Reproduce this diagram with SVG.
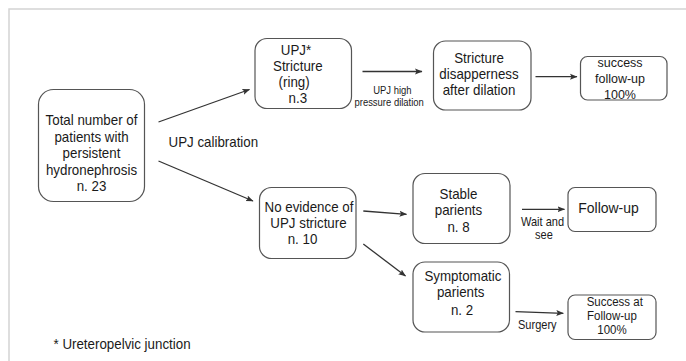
<svg xmlns="http://www.w3.org/2000/svg" width="686" height="361" viewBox="0 0 686 361">
<defs>
<marker id="ah" markerWidth="8" markerHeight="8" refX="7" refY="3.5" orient="auto" markerUnits="userSpaceOnUse">
<path d="M0,0.5 L7.5,3.5 L0,6.5 L1.5,3.5 z" fill="#333"/>
</marker>
</defs>
<style>
.box{fill:#fff;stroke:#555;stroke-width:1.2}
.t{font-family:"Liberation Sans",Arial,sans-serif;font-size:14.5px;fill:#1a1a1a;text-anchor:middle}
.s{font-size:10.3px}
.m{font-size:12px}
.n{font-size:13.6px}
.c{font-size:12.5px}
.f{font-size:15.2px}
.l{text-anchor:start}
.conn line{stroke:#333;stroke-width:1.3;marker-end:url(#ah)}
</style>
<rect x="0" y="0" width="686" height="361" fill="#fff"/>
<rect x="9" y="9" width="690" height="370" fill="none" stroke="#d4d4d4" stroke-width="1.5"/>

<g id="total">
<rect class="box" x="38.5" y="89.5" width="106" height="112" rx="15"/>
<g transform="translate(91.5,0) scale(0.92,1)">
<text class="t" x="0" y="125.5">Total number of</text>
<text class="t" x="0" y="142">patients with</text>
<text class="t" x="0" y="158.5">persistent</text>
<text class="t" x="0" y="175">hydronephrosis</text>
<text class="t" x="0" y="191">n. 23</text>
</g>
</g>

<g id="upj">
<rect class="box" x="255" y="38.5" width="96.5" height="70" rx="12"/>
<g transform="translate(296,0) scale(0.92,1)">
<text class="t" x="0" y="55">UPJ*</text>
<text class="t" x="2" y="71">Stricture</text>
<text class="t" x="-2" y="87">(ring)</text>
<text class="t" x="2" y="103">n.3</text>
</g>
</g>

<g id="disappear">
<rect class="box" x="433.5" y="41" width="97.5" height="69" rx="12"/>
<g transform="translate(479,0) scale(0.92,1)">
<text class="t" x="0" y="63.5">Stricture</text>
<text class="t" x="0" y="79.5">disapperness</text>
<text class="t" x="0" y="95.5">after dilation</text>
</g>
</g>

<g id="success1">
<rect class="box" x="580.5" y="56.5" width="86.5" height="43.5" rx="7"/>
<g transform="translate(620,0) scale(0.92,1)">
<text class="t n" x="0" y="67">success</text>
<text class="t n" x="0" y="83">follow-up</text>
<text class="t n" x="0" y="99">100%</text>
</g>
</g>

<g id="noevidence">
<rect class="box" x="259.5" y="187.5" width="96.5" height="71" rx="12"/>
<g transform="translate(308.5,0) scale(0.92,1)">
<text class="t" x="0.5" y="212.5">No evidence of</text>
<text class="t" x="0" y="228.5">UPJ stricture</text>
<text class="t" x="-6.5" y="244.5">n. 10</text>
</g>
</g>

<g id="stable">
<rect class="box" x="413" y="173.5" width="97" height="70" rx="12"/>
<g transform="translate(458.5,0) scale(0.92,1)">
<text class="t" x="0" y="199">Stable</text>
<text class="t" x="0" y="215.5">parients</text>
<text class="t" x="0" y="232.5">n. 8</text>
</g>
</g>

<g id="symptomatic">
<rect class="box" x="413" y="262" width="96.5" height="70" rx="12"/>
<g transform="translate(462,0) scale(0.92,1)">
<text class="t" x="1" y="281.5">Symptomatic</text>
<text class="t" x="-1.5" y="297.5">parients</text>
<text class="t" x="0" y="315">n. 2</text>
</g>
</g>

<g id="followup">
<rect class="box" x="568" y="187.5" width="88" height="44" rx="7"/>
<g transform="translate(608.5,0) scale(0.92,1)">
<text class="t f" x="0" y="213.5">Follow-up</text>
</g>
</g>

<g id="success2">
<rect class="box" x="568" y="295" width="88" height="44.5" rx="7"/>
<g transform="translate(612,0) scale(0.92,1)">
<text class="t c" x="3" y="306">Success at</text>
<text class="t c" x="0" y="320.5">Follow-up</text>
<text class="t c" x="0" y="334.5">100%</text>
</g>
</g>

<g id="connectors" class="conn">
<line x1="158.5" y1="122" x2="249.5" y2="89.5"/>
<line x1="158.5" y1="161" x2="253" y2="201"/>
<line x1="362.5" y1="71.5" x2="422" y2="71.5"/>
<line x1="535.5" y1="76.7" x2="577" y2="76.7"/>
<line x1="363.3" y1="211" x2="406.5" y2="214.3"/>
<line x1="363.3" y1="244" x2="405.5" y2="276"/>
<line x1="522" y1="209.3" x2="564.5" y2="209.3"/>
<line x1="515.5" y1="311.7" x2="563.3" y2="313.3"/>
</g>

<g id="labels">
<g transform="translate(168.5,0) scale(0.92,1)">
<text class="t l" x="0" y="146.8">UPJ calibration</text>
</g>
<g transform="translate(391,0) scale(0.92,1)">
<text class="t s" x="1.5" y="94.5">UPJ high</text>
<text class="t s" x="-2" y="106">pressure dilation</text>
</g>
<g transform="translate(542.5,0) scale(0.92,1)">
<text class="t m" x="0" y="226.5">Wait and</text>
<text class="t m" x="1.5" y="239.5">see</text>
</g>
<g transform="translate(537.3,0) scale(0.92,1)">
<text class="t m" x="0" y="329">Surgery</text>
</g>
<g transform="translate(53.5,0) scale(0.92,1)">
<text class="t l" x="0" y="349">* Ureteropelvic junction</text>
</g>
</g>
</svg>
